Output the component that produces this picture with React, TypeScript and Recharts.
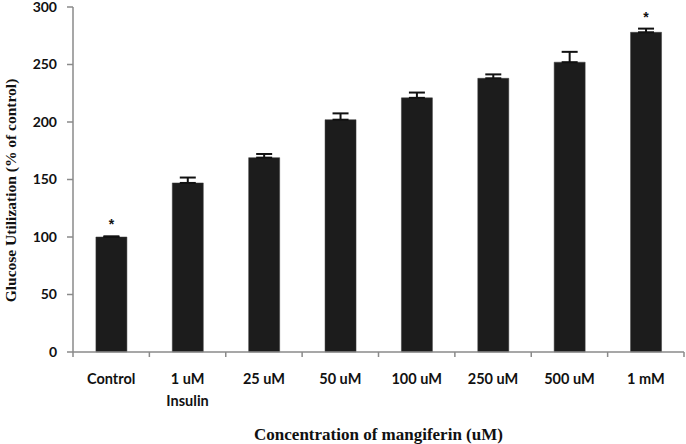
import React from 'react';
import { ComposedChart, Bar, XAxis, YAxis, ErrorBar, LabelList, Label } from 'recharts';

const categories = ['Control', '1 uM\nInsulin', '25 uM', '50 uM', '100 uM', '250 uM', '500 uM', '1 mM'];
const values = [100, 147, 169, 202, 221, 238, 252, 278];
const errors = [0.6, 4.7, 3.2, 5.5, 4.6, 3.4, 9, 3.2];
const significance = ['*', '', '', '', '', '', '', '*'];
const yTicks = [0, 50, 100, 150, 200, 250, 300];

const data = categories.map((c, i) => ({
  name: c,
  value: values[i],
  err: [0, errors[i]],
  sig: significance[i],
}));

const sansFont = 'Lato, "Open Sans", sans-serif';
const serifFont = '"Liberation Serif", "DejaVu Serif", serif';
const axisColor = '#8a8a8a';
const textColor = '#111';

const XTick = (props: any) => {
  const { x, y, payload, index } = props;
  const half = payload && typeof payload.offset === 'number' && payload.offset > 0 ? payload.offset : 38;
  const lines = String(payload.value).split('\n');
  return (
    <g>
      <line x1={x - half} x2={x - half} y1={y} y2={y + 5} stroke={axisColor} strokeWidth={1.5} />
      {index === categories.length - 1 && (
        <line x1={x + half} x2={x + half} y1={y} y2={y + 5} stroke={axisColor} strokeWidth={1.5} />
      )}
      {lines.map((l, i) => (
        <text
          key={i}
          x={x}
          y={y + 32 + i * 21.5}
          textAnchor="middle"
          fontFamily={sansFont}
          fontWeight={700}
          fontSize={14.5}
          fill={textColor}
        >
          {l}
        </text>
      ))}
    </g>
  );
};

const SigLabel = (props: any) => {
  const { x, y, width, height, value, index } = props;
  if (!value) return null;
  const pxPerUnit = height / values[index];
  const cx = x + width / 2;
  const cy = y - errors[index] * pxPerUnit - 12;
  return (
    <text
      x={cx}
      y={cy + 5}
      textAnchor="middle"
      fontFamily='"Liberation Sans", Arial, sans-serif'
      fontWeight={700}
      fontSize={14}
      fill={textColor}
    >
      {value}
    </text>
  );
};

const YTitle = (props: any) => {
  const vb = props.viewBox || { x: 0, y: 7, width: 73, height: 345 };
  const cx = 10;
  const cy = vb.y + vb.height / 2 + 11;
  return (
    <text
      x={cx}
      y={cy}
      transform={`rotate(-90, ${cx}, ${cy})`}
      textAnchor="middle"
      dominantBaseline="central"
      fontFamily={serifFont}
      fontWeight={700}
      fontSize={15.5}
      fill={textColor}
    >
      Glucose Utilization (% of control)
    </text>
  );
};

export default function App() {
  return (
    <div style={{ position: 'absolute', left: 0, top: 0, width: 686, height: 444, background: '#fff' }}>
      <ComposedChart
        width={686}
        height={444}
        data={data}
        margin={{ top: 7, right: 2, left: 0, bottom: 0 }}
        barCategoryGap="30%"
      >
        <XAxis
          dataKey="name"
          interval={0}
          height={92}
          axisLine={{ stroke: axisColor, strokeWidth: 1.5 }}
          tickLine={false}
          tickSize={0}
          tickMargin={0}
          tick={<XTick />}
        >
          <Label
            value="Concentration of mangiferin (uM)"
            position="insideBottom"
            offset={4}
            style={{ fontFamily: serifFont, fontWeight: 700, fontSize: 17, fill: textColor }}
          />
        </XAxis>
        <YAxis
          width={73}
          domain={[0, 300]}
          ticks={yTicks}
          interval={0}
          axisLine={{ stroke: axisColor, strokeWidth: 1.5 }}
          tickLine={{ stroke: axisColor, strokeWidth: 1.5 }}
          tickSize={6}
          tickMargin={10}
          tick={{ fontFamily: sansFont, fontWeight: 700, fontSize: 14, fill: textColor }}
        >
          <Label content={<YTitle />} />
        </YAxis>
        <Bar dataKey="value" fill="#1c1c1c" stroke="#3a3a3a" strokeWidth={0.5} isAnimationActive={false}>
          <ErrorBar dataKey="err" width={8} stroke="#111" strokeWidth={2} direction="y" />
          <LabelList dataKey="sig" content={<SigLabel />} />
        </Bar>
      </ComposedChart>
    </div>
  );
}
